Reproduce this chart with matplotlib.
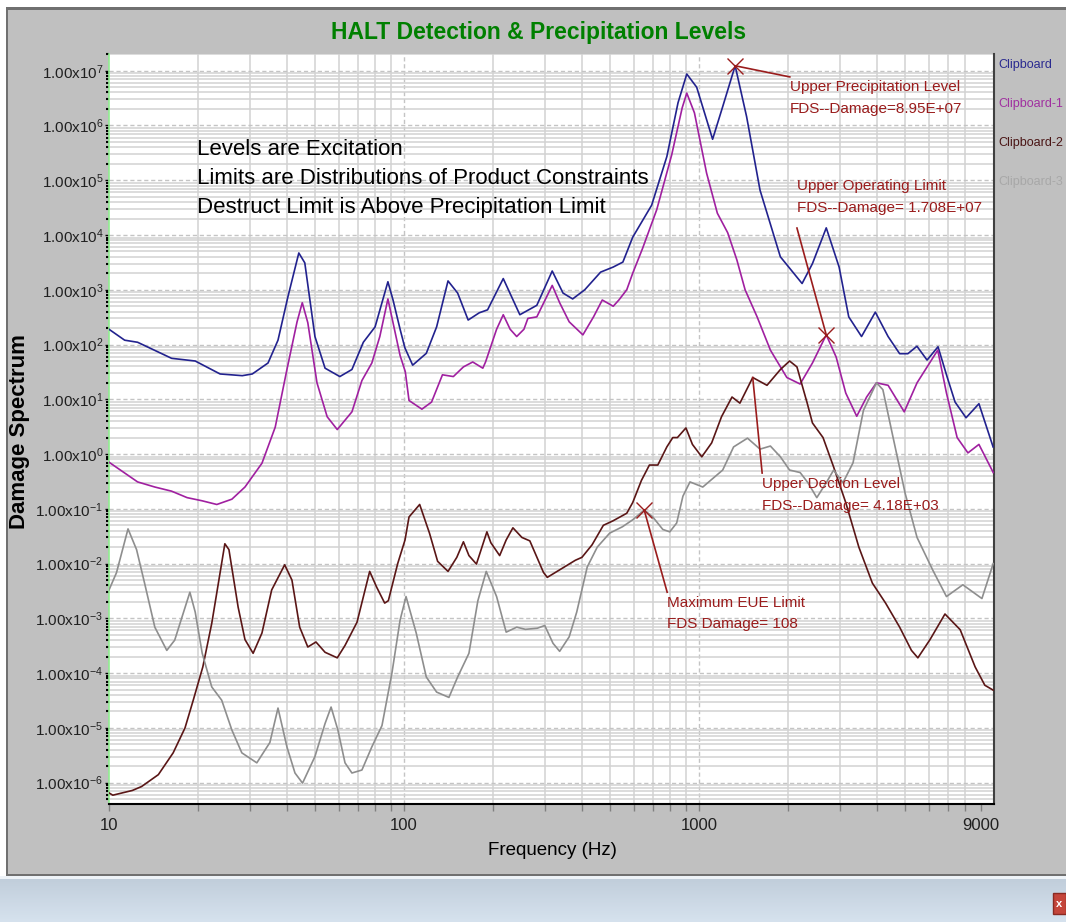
import numpy as np
import matplotlib
matplotlib.use("Agg")
import matplotlib.pyplot as plt
from matplotlib.ticker import FixedLocator, FixedFormatter, LogLocator, NullFormatter
from matplotlib.patches import Rectangle

plt.rcParams['font.family'] = ['Liberation Sans', 'DejaVu Sans']
plt.rcParams['mathtext.fontset'] = 'custom'
plt.rcParams['mathtext.rm'] = 'Liberation Sans'

# Clipboard (upper level)
clipboard_hz = [10, 11.3, 12.5, 16.3, 19.6, 23.8, 28.3, 30.6, 34.6, 37.4,
                40.4, 44.0, 46.1, 49.9, 54.0, 60.6, 66.6, 72.8, 79.8, 88.2,
                91.8, 97, 100.7, 107, 119, 129, 141, 152, 165, 180,
                192, 217, 247, 282, 318, 346, 373, 410, 464, 512,
                552, 596, 691, 778, 849, 909, 982, 1112, 1203, 1326,
                1450, 1610, 1887, 2236, 2424, 2700, 2985, 3218, 3556, 3960,
                4375, 4788, 5105, 5480, 5930, 6460, 6930, 7380, 8040, 8890,
                9930]
clipboard_dmg = [190, 120, 110, 56, 50, 29, 27, 29, 46, 120,
                 740, 4.7e3, 3.1e3, 140, 37, 26, 35, 110, 210, 1.4e3,
                 650, 190, 87, 42, 69, 210, 1.45e3, 870, 280, 380,
                 430, 1.6e3, 350, 520, 2.2e3, 870, 680, 1.0e3, 2.1e3, 2.6e3,
                 3.2e3, 9.1e3, 3.5e4, 2.7e5, 2.6e6, 8.7e6, 5.0e6, 5.6e5, 2.2e6, 1.23e7,
                 1.45e6, 6.6e4, 4.0e3, 1.3e3, 3.0e3, 1.35e4, 2.6e3, 320, 140, 390,
                 140, 68, 68, 93, 52, 91, 26, 8.9, 4.6, 8.3,
                 1.35]

# Clipboard-1
clipboard1_hz = [10, 12.5, 14.3, 16.3, 18.4, 20.7, 23.2, 26.1, 28.9, 33.0,
                 36.6, 40.1, 43.4, 45.2, 47.2, 50.7, 54.9, 59.4, 66.6, 72.0,
                 77.8, 82.8, 88.2, 91.8, 97, 101, 104, 115, 124, 135,
                 147, 159, 171, 185, 189, 206, 217, 229, 241, 255,
                 263, 282, 318, 337, 363, 404, 439, 470, 512, 535,
                 569, 596, 643, 719, 808, 877, 909, 965, 1061, 1154,
                 1251, 1344, 1433, 1574, 1746, 1985, 2202, 2424, 2700, 2917,
                 3144, 3425, 3700, 3995, 4375, 4963, 5485, 6446, 6900, 7500,
                 8160, 8890, 9940]
clipboard1_dmg = [0.71, 0.31, 0.25, 0.21, 0.16, 0.14, 0.12, 0.15, 0.25, 0.68,
                  3.1, 35, 260, 580, 250, 20, 4.8, 2.8, 5.9, 22,
                  46, 140, 680, 250, 63, 32, 9.5, 6.6, 8.9, 28,
                  26, 39, 48, 37, 48, 190, 350, 190, 140, 190,
                  300, 320, 1.2e3, 580, 260, 150, 320, 650, 500, 650,
                  1.0e3, 2.0e3, 5.6e3, 2.9e4, 2.9e5, 2.1e6, 3.9e6, 1.7e6, 1.35e5, 2.5e4,
                  1.1e4, 3.5e3, 1.0e3, 320, 79, 25, 19, 46, 150, 59,
                  13, 4.9, 11, 20, 18, 5.9, 20, 79, 13, 2.0,
                  1.05, 1.5, 0.46]

# Clipboard-2
clipboard2_hz = [10, 10.3, 12.0, 12.9, 14.7, 16.5, 18.1, 19.3, 20.8, 22.3,
                 23.8, 24.7, 25.5, 27.4, 28.9, 30.8, 33.0, 35.6, 39.4, 41.7,
                 44.3, 47.2, 50.3, 54.0, 59.4, 63.1, 69.3, 76.5, 80.8, 86.0,
                 88.5, 95.2, 100.8, 104, 113, 122, 130, 141, 151, 159,
                 166, 176, 191, 197, 211, 222, 234, 251, 267, 297,
                 306, 345, 381, 401, 434, 474, 510, 569, 596, 638,
                 679, 725, 778, 815, 845, 903, 950, 1022, 1104, 1192,
                 1294, 1376, 1521, 1700, 1888, 2028, 2148, 2327, 2424, 2633,
                 2860, 3144, 3482, 3870, 4290, 4788, 5250, 5520, 6070, 6820,
                 7680, 8630, 9310, 9930]
clipboard2_dmg = [6.5e-7, 5.9e-7, 7.2e-7, 8.5e-7, 1.4e-6, 3.5e-6, 1.0e-5, 3.2e-5, 1.3e-4, 8.1e-4,
                  6.8e-3, 2.3e-2, 1.8e-2, 1.6e-3, 4.1e-4, 2.3e-4, 5.4e-4, 3.3e-3, 9.5e-3, 5.0e-3,
                  6.9e-4, 3.0e-4, 3.7e-4, 2.4e-4, 1.9e-4, 3.2e-4, 8.5e-4, 7.2e-3, 3.7e-3, 1.9e-3,
                  2.1e-3, 1.0e-2, 2.7e-2, 7.1e-2, 0.12, 3.6e-2, 1.1e-2, 7.2e-3, 1.3e-2, 2.5e-2,
                  1.4e-2, 9.8e-3, 3.8e-2, 2.4e-2, 1.4e-2, 2.7e-2, 4.5e-2, 3.0e-2, 2.6e-2, 6.9e-3,
                  5.6e-3, 8.3e-3, 1.15e-2, 1.3e-2, 2.2e-2, 5.0e-2, 6.0e-2, 8.3e-2, 0.13, 0.33,
                  0.63, 0.63, 1.35, 2.0, 2.0, 3.0, 1.5, 0.89, 1.6, 4.8,
                  11, 8.5, 25, 18, 35, 50, 39, 8.5, 3.7, 2.0,
                  0.58, 0.13, 0.020, 4.4e-3, 1.9e-3, 6.9e-4, 2.6e-4, 1.9e-4, 4.1e-4, 1.2e-3,
                  6.2e-4, 1.3e-4, 6.0e-5, 4.9e-5]

# Clipboard-3
clipboard3_hz = [10, 10.6, 11.6, 12.4, 13.2, 14.3, 15.7, 16.7, 18.8, 19.6,
                 20.7, 22.3, 24.1, 26.1, 28.2, 31.7, 35.1, 37.4, 40.1, 42.7,
                 45.3, 49.9, 54.0, 56.6, 59.7, 63.1, 66.6, 72.0, 77.8, 84.2,
                 91.0, 97.0, 101.6, 110, 119, 129, 142, 152, 166, 178,
                 190, 206, 222, 241, 258, 283, 300, 320, 337, 363,
                 385, 418, 452, 498, 550, 596, 652, 697, 754, 796,
                 840, 882, 932, 1030, 1203, 1310, 1460, 1610, 1746, 1888,
                 2028, 2202, 2340, 2508, 2700, 2860, 3076, 3327, 3610, 3997,
                 4200, 4550, 5000, 5485, 6200, 6900, 7840, 9100, 9940]
clipboard3_dmg = [3.3e-3, 6.8e-3, 4.3e-2, 1.8e-2, 4.4e-3, 6.9e-4, 2.6e-4, 4.0e-4, 3.0e-3, 1.3e-3,
                  2.3e-4, 5.6e-5, 3.2e-5, 9.1e-6, 3.5e-6, 2.3e-6, 5.4e-6, 2.3e-5, 4.5e-6, 1.5e-6,
                  9.8e-7, 3.0e-6, 1.2e-5, 2.4e-5, 9.1e-6, 2.3e-6, 1.5e-6, 1.7e-6, 4.5e-6, 1.1e-5,
                  1.0e-4, 9.3e-4, 2.5e-3, 5.4e-4, 8.5e-5, 4.5e-5, 3.6e-5, 8.5e-5, 2.3e-4, 2.1e-3,
                  7.2e-3, 2.5e-3, 5.6e-4, 6.9e-4, 6.3e-4, 6.6e-4, 7.4e-4, 3.5e-4, 2.5e-4, 4.6e-4,
                  1.3e-3, 8.7e-3, 2.0e-2, 3.6e-2, 4.7e-2, 6.3e-2, 9.5e-2, 7.1e-2, 4.2e-2, 3.8e-2,
                  5.5e-2, 0.17, 0.31, 0.25, 0.51, 1.35, 1.95, 1.23, 1.4, 0.89,
                  0.51, 0.46, 0.30, 0.16, 0.30, 0.51, 0.30, 0.69, 6.3, 20,
                  15, 2.0, 0.19, 0.030, 7.6e-3, 2.5e-3, 4.1e-3, 2.3e-3, 1.0e-2]

series_names = ['Clipboard', 'Clipboard-1', 'Clipboard-2', 'Clipboard-3']
series_colors = ['#22228e', '#a020a0', '#5a1616', '#8e8e8e']
legend_colors = ['#2a2a90', '#a030a0', '#4a1515', '#a8a8a8']

x_ticks = [10, 100, 1000, 9000]
x_tick_labels = ['10', '100', '1000', '9000']
y_exponents = list(range(-6, 8))

W, H = 1066, 922
ann_color = '#9a1c1c'


def fig_rect(x, y, w, h):
    # pixel box (top-left origin) -> figure fraction
    return (x / W, 1 - (y + h) / H, w / W, h / H)


fig = plt.figure(figsize=(W / 100, H / 100), dpi=100, facecolor='#c0c0c0')

# window frame
for (x, y, w, h, c) in [(0, 0, W, 7, 'white'), (0, 0, 6, 878, 'white'),
                        (6, 7, W - 6, 3, '#707070'), (6, 7, 2, 870, '#707070'),
                        (6, 874, W - 6, 2, '#707070'), (0, 876, W, 3, '#eef3f8')]:
    fx, fy, fw, fh = fig_rect(x, y, w, h)
    fig.add_artist(Rectangle((fx, fy), fw, fh, transform=fig.transFigure,
                             facecolor=c, edgecolor='none', zorder=0))

# status bar gradient at the bottom
bar = fig.add_axes(fig_rect(0, 879, W, H - 879))
bar.imshow(np.linspace(0, 1, 50).reshape(-1, 1), aspect='auto',
           cmap=matplotlib.colors.LinearSegmentedColormap.from_list('bar', ['#c1cedb', '#d6e2ee']),
           extent=(0, 1, 0, 1))
bar.axis('off')
bx, by, bw, bh = fig_rect(1053, 893, 13, 21)
fig.add_artist(Rectangle((bx, by), bw, bh, transform=fig.transFigure,
                         facecolor='#c4453a', edgecolor='#8a2a22', lw=1))
fig.text(bx + bw / 2, by + bh / 2, 'x', color='white', fontsize=8, fontweight='bold',
         ha='center', va='center')

ax = fig.add_axes(fig_rect(109, 54, 885, 750))
ax.set_facecolor('white')
ax.set_xscale('log')
ax.set_yscale('log')
ax.set_xlim(10, 1e4)
ax.set_ylim(10 ** -6.39, 10 ** 7.305)

# grid: solid minor lines, dashed decades
ax.xaxis.set_major_locator(FixedLocator(x_ticks))
ax.xaxis.set_major_formatter(FixedFormatter(x_tick_labels))
ax.xaxis.set_minor_locator(LogLocator(base=10, subs=np.arange(2, 10), numticks=30))
ax.xaxis.set_minor_formatter(NullFormatter())
ax.yaxis.set_major_locator(FixedLocator([10.0 ** e for e in y_exponents]))
ax.yaxis.set_major_formatter(FixedFormatter([r'$\mathrm{1.00x10^{%d}}$' % e for e in y_exponents]))
ax.yaxis.set_minor_locator(LogLocator(base=10, subs=np.arange(2, 10), numticks=40))
ax.yaxis.set_minor_formatter(NullFormatter())

ax.grid(which='minor', color='#d2d2d2', lw=1.1, ls='-')
ax.grid(which='major', axis='y', color='#c4c4c4', lw=1.0, ls=(0, (3, 2)))
for xv in [100, 1000]:
    ax.axvline(xv, color='#c4c4c4', lw=1.0, ls=(0, (3, 2)), zorder=0.5)
ax.set_axisbelow(True)

ax.tick_params(axis='y', which='major', direction='out', length=3, width=1, pad=1,
               labelsize=11, colors='black')
ax.tick_params(axis='y', which='minor', direction='out', length=2, width=1.5, color='black')
ax.tick_params(axis='x', which='both', direction='out', length=5, width=1, color='#808080',
               labelsize=12, pad=5)
for lbl in ax.get_yticklabels() + ax.get_xticklabels():
    lbl.set_color('#202020')

ax.spines['top'].set_visible(False)
ax.spines['left'].set_color('#90ee90')
ax.spines['left'].set_linewidth(1.2)
ax.spines['bottom'].set_color('black')
ax.spines['bottom'].set_linewidth(1.5)
ax.spines['right'].set_color('#404040')
ax.spines['right'].set_linewidth(1.5)

all_hz = [clipboard_hz, clipboard1_hz, clipboard2_hz, clipboard3_hz]
all_dmg = [clipboard_dmg, clipboard1_dmg, clipboard2_dmg, clipboard3_dmg]
for hz, dmg, col in zip(all_hz, all_dmg, series_colors):
    ax.plot(hz, dmg, color=col, lw=1.2, zorder=3)

# callouts
def callout(x0, y0, x1, y1, tx, ty, text, mark=True):
    if mark:
        ax.plot(x0, y0, marker='x', ms=11, mew=1.0, color=ann_color, zorder=4)
    ax.plot([x0, x1], [y0, y1], color=ann_color, lw=1.2, zorder=4)
    ax.text(tx, ty, text, color=ann_color, fontsize=11, va='top', ha='left',
            linespacing=1.7, zorder=5)

i = int(np.argmax(clipboard_dmg))
callout(clipboard_hz[i], clipboard_dmg[i], 2032, 7.7e6, 2032, 6.8e6,
        'Upper Precipitation Level\nFDS--Damage=8.95E+07')
i = clipboard1_hz.index(2700)
callout(clipboard1_hz[i], clipboard1_dmg[i], 2148, 1.34e4, 2148, 1.05e5,
        'Upper Operating Limit\nFDS--Damage= 1.708E+07')
i = clipboard2_hz.index(1521)
callout(clipboard2_hz[i], clipboard2_dmg[i], 1637, 0.45, 1637, 0.38,
        'Upper Dection Level\nFDS--Damage= 4.18E+03', mark=False)
i = clipboard3_hz.index(652)
callout(clipboard3_hz[i], clipboard3_dmg[i], 780, 3.0e-3, 780, 2.6e-3,
        'Maximum EUE Limit\nFDS Damage= 108')

fig.text(197 / W, 1 - 139 / H,
         'Levels are Excitation\nLimits are Distributions of Product Constraints\n'
         'Destruct Limit is Above Precipitation Limit',
         fontsize=16, va='top', ha='left', linespacing=1.5, color='black')

# legend labels at the right
for k, (name, col) in enumerate(zip(series_names, legend_colors)):
    fig.text(998 / W, 1 - (65 + 39 * k) / H, name, color=col, fontsize=9,
             ha='left', va='center')

fig.text(539 / W, 1 - 32 / H, 'HALT Detection & Precipitation Levels', color='#008000',
         fontsize=16.5, fontweight='bold', ha='center', va='center')
fig.text(552 / W, 1 - 850 / H, 'Frequency (Hz)', fontsize=13.5, ha='center', va='center')
fig.text(20 / W, 1 - 432 / H, 'Damage Spectrum', fontsize=16, fontweight='bold',
         rotation=90, ha='center', va='center')

fig.savefig('out.png', dpi=100, facecolor=fig.get_facecolor())
